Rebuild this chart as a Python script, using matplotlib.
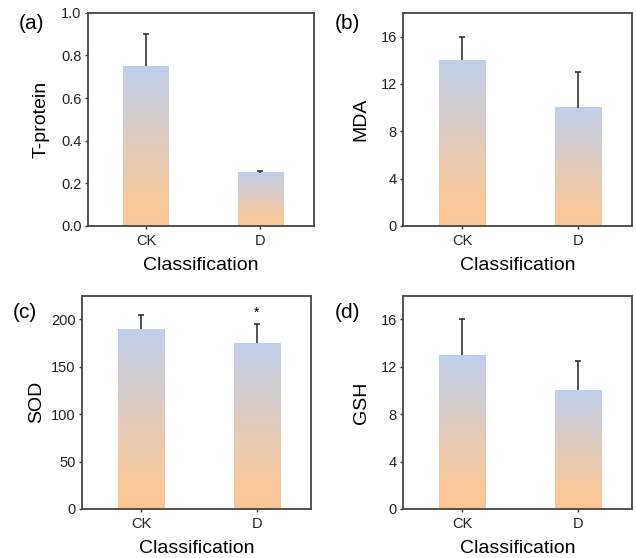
import numpy as np
import matplotlib
matplotlib.use("Agg")
import matplotlib.pyplot as plt
from matplotlib.colors import LinearSegmentedColormap

plt.rcParams['font.family'] = ['Liberation Sans', 'DejaVu Sans']

groups = ['CK', 'D']

t_protein = [0.75, 0.25]
t_protein_err = [0.15, 0.01]
mda = [14, 10]
mda_err = [2, 3]
sod = [190, 175]
sod_err = [15, 20]
gsh = [13, 10]
gsh_err = [3, 2.5]

panels = [
    ('(a)', 'T-protein', t_protein, t_protein_err, (0, 1.0), np.arange(0, 1.01, 0.2), '{:.1f}'),
    ('(b)', 'MDA', mda, mda_err, (0, 18), [0, 4, 8, 12, 16], '{:.0f}'),
    ('(c)', 'SOD', sod, sod_err, (0, 225), [0, 50, 100, 150, 200], '{:.0f}'),
    ('(d)', 'GSH', gsh, gsh_err, (0, 18), [0, 4, 8, 12, 16], '{:.0f}'),
]

# axes boxes in figure fraction (left, bottom, width, height)
boxes = [
    (0.138, 0.595, 0.356, 0.382),
    (0.634, 0.595, 0.360, 0.382),
    (0.129, 0.088, 0.360, 0.382),
    (0.634, 0.088, 0.360, 0.382),
]
label_pos = [(0.030, 0.958), (0.527, 0.958), (0.020, 0.440), (0.527, 0.440)]
ylabel_pads = [8, 8, 4, 8]

cmap = LinearSegmentedColormap.from_list('grad', [(0, '#FAC797'), (0.15, '#F9C89A'), (1, '#BFCFEB')])
grad = np.linspace(0, 1, 256).reshape(-1, 1)

fig = plt.figure(figsize=(6.36, 5.58), dpi=100)
width = 0.4
x = np.arange(len(groups))

for (tag, ylabel, vals, errs, ylim, yticks, fmt), box, lp, lpad in zip(panels, boxes, label_pos, ylabel_pads):
    ax = fig.add_axes(box)
    for xi, v in zip(x, vals):
        ax.imshow(grad, cmap=cmap, origin='lower', aspect='auto',
                  extent=[xi - width / 2, xi + width / 2, 0, v], zorder=2)
    eb = ax.errorbar(x, vals, yerr=[[0] * len(errs), errs], fmt='none',
                     ecolor='#333333', elinewidth=1.2, capsize=2.5, capthick=1.2, zorder=3)
    eb[1][0].set_visible(False)  # upper error only
    ax.set_xlim(-0.51, 1.47)
    ax.set_ylim(*ylim)
    ax.set_xticks(x)
    ax.set_xticklabels(groups)
    ax.set_yticks(yticks)
    ax.set_yticklabels([fmt.format(t) for t in yticks])
    ax.tick_params(direction='out', length=2.5, width=1, pad=2, labelsize=10.5,
                   colors='#333333', labelcolor='#222222')
    ax.tick_params(axis='x', pad=3.5)
    for sp in ax.spines.values():
        sp.set_linewidth(1.3)
        sp.set_color('#444444')
    ax.set_xlabel('Classification', fontsize=14, labelpad=6)
    ax.set_ylabel(ylabel, fontsize=14, labelpad=lpad)
    fig.text(lp[0], lp[1], tag, fontsize=15, ha='left', va='center')
    if tag == '(c)':
        ax.text(x[1], 207, '*', ha='center', va='center', fontsize=10)

fig.savefig('out.png', dpi=100)
